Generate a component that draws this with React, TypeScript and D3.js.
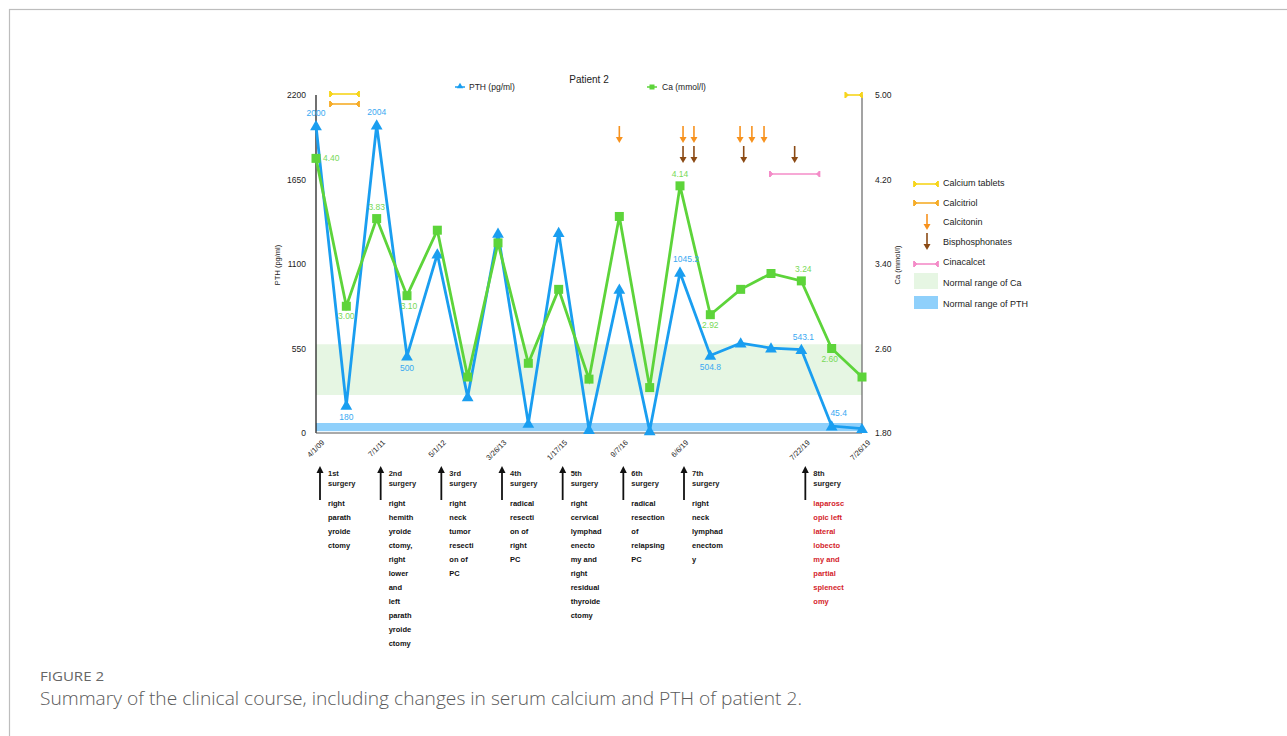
import React from "react";
import * as d3 from "d3";

const dates = ["4/1/09", "", "7/1/11", "", "5/1/12", "", "3/26/13", "", "1/17/15", "", "9/7/16", "", "6/6/19", "", "", "", "7/22/19", "", "7/26/19"];
const pth = [2000, 180, 2004, 500, 1165, 235, 1300, 62, 1305, 22, 935, 14, 1045.2, 504.8, 585, 553, 543.1, 45.4, 28];
const ca = [4.40, 3.00, 3.83, 3.10, 3.72, 2.33, 3.60, 2.46, 3.16, 2.31, 3.85, 2.23, 4.14, 2.92, 3.16, 3.31, 3.24, 2.60, 2.33];
const pthLabels: [number, string][] = [[0, "2000"], [1, "180"], [2, "2004"], [3, "500"], [12, "1045.2"], [13, "504.8"], [16, "543.1"], [17, "45.4"]];
const caLabels: [number, string][] = [[0, "4.40"], [1, "3.00"], [2, "3.83"], [3, "3.10"], [12, "4.14"], [13, "2.92"], [16, "3.24"], [17, "2.60"]];
const pthTicks = [0, 550, 1100, 1650, 2200];
const caTicks = [1.8, 2.6, 3.4, 4.2, 5.0];
const caNormal = [2.16, 2.64];
const pthNormal = [12, 65];

const calciumTablets: [number, number][] = [[0.46, 1.42], [17.45, 18]];
const calcitriol: [number, number][] = [[0.46, 1.42]];
const calcitonin = [10, 12.1, 12.46, 13.98, 14.37, 14.77];
const bisphosphonates = [12.1, 12.46, 14.1, 15.78];
const cinacalcet: [number, number][] = [[14.96, 16.6]];

const surgeryIdx = [0, 2, 4, 6, 8, 10, 12, 16];
const surgeryOrd = ["1st", "2nd", "3rd", "4th", "5th", "6th", "7th", "8th"];
const surgeryText = [
  ["right", "parath", "yroide", "ctomy"],
  ["right", "hemith", "yroide", "ctomy,", "right", "lower", "and", "left", "parath", "yroide", "ctomy"],
  ["right", "neck", "tumor", "resecti", "on of", "PC"],
  ["radical", "resecti", "on of", "right", "PC"],
  ["right", "cervical", "lymphad", "enecto", "my and", "right", "residual", "thyroide", "ctomy"],
  ["radical", "resection", "of", "relapsing", "PC"],
  ["right", "neck", "lymphad", "enectom", "y"],
  ["laparosc", "opic left", "lateral", "lobecto", "my and", "partial", "splenect", "omy"],
];
const legendItems = ["Calcium tablets", "Calcitriol", "Calcitonin", "Bisphosphonates", "Cinacalcet", "Normal range of Ca", "Normal range of PTH"];

const BLUE = "#1a9ef0";
const BLUE_T = "#3aa9f2";
const GREEN = "#5dd43a";
const GREEN_T = "#78d957";
const YELLOW = "#f7d51d";
const ORANGE_Y = "#f6ad2a";
const ORANGE = "#f7921e";
const BROWN = "#8b4a14";
const PINK = "#f48cc8";
const FONT = "'Liberation Sans', Arial, sans-serif";

const x = d3.scaleLinear().domain([0, 18]).range([316, 862]);
const yP = d3.scaleLinear().domain([0, 2200]).range([433, 95]);
const yC = d3.scaleLinear().domain([1.8, 5.0]).range([433, 95]);

function IBeam({ x1, x2, y, color }: { x1: number; x2: number; y: number; color: string }) {
  return (
    <g stroke={color} strokeWidth={1.6}>
      <line x1={x1} x2={x2} y1={y} y2={y} />
      <path d={`M${x1},${y - 3}L${x1 + 3},${y}L${x1},${y + 3}Z`} fill={color} strokeWidth={1} />
      <line x1={x1} x2={x1} y1={y - 3} y2={y + 3} />
      <path d={`M${x2},${y - 3}L${x2 - 3},${y}L${x2},${y + 3}Z`} fill={color} strokeWidth={1} />
      <line x1={x2} x2={x2} y1={y - 3} y2={y + 3} />
    </g>
  );
}

function DownArrow({ cx, y1, y2, color }: { cx: number; y1: number; y2: number; color: string }) {
  return (
    <g>
      <line x1={cx} x2={cx} y1={y1} y2={y2 - 5} stroke={color} strokeWidth={1.6} />
      <path d={`M${cx - 3.5},${y2 - 6}L${cx + 3.5},${y2 - 6}L${cx},${y2}Z`} fill={color} />
    </g>
  );
}

export default function App() {
  const linePth = d3.line<number>().x((_, i) => x(i)).y((d) => yP(d));
  const lineCa = d3.line<number>().x((_, i) => x(i)).y((d) => yC(d));
  const tri = d3.symbol().type(d3.symbolTriangle).size(60)()!;

  return (
    <svg width={1287} height={736} style={{ position: "absolute", left: 0, top: 0, background: "#fff" }} fontFamily={FONT}>
      <rect x={9.5} y={9.5} width={1300} height={760} fill="none" stroke="#bdbdbd" strokeWidth={1.2} />

      {/* title & legend */}
      <text x={589} y={83} fontSize={10} textAnchor="middle" fill="#222">Patient  2</text>
      <g>
        <line x1={455} x2={465} y1={87} y2={87} stroke={BLUE} strokeWidth={1.5} />
        <path d={d3.symbol().type(d3.symbolTriangle).size(18)()!} transform="translate(460,86.5)" fill={BLUE} />
        <text x={469} y={90} fontSize={8.5} fill="#222">PTH (pg/ml)</text>
        <line x1={647} x2={657} y1={87} y2={87} stroke={GREEN} strokeWidth={1.5} />
        <rect x={649.5} y={84.5} width={5} height={5} fill={GREEN} />
        <text x={662} y={90} fontSize={8.5} fill="#222">Ca (mmol/l)</text>
      </g>

      {/* normal bands */}
      <rect x={x(0)} width={x(18) - x(0)} y={yC(caNormal[1])} height={yC(caNormal[0]) - yC(caNormal[1])} fill="#e6f6e3" />
      <rect x={x(0)} width={x(18) - x(0)} y={yP(pthNormal[1])} height={yP(pthNormal[0]) - yP(pthNormal[1])} fill="#8fd0fb" />

      {/* axes */}
      <line x1={316} x2={316} y1={95} y2={433} stroke="#111" strokeWidth={1.2} />
      <line x1={862} x2={862} y1={95} y2={433} stroke="#666" strokeWidth={1.2} />
      <line x1={316} x2={862} y1={433} y2={433} stroke="#555" strokeWidth={1} />
      {pthTicks.map((t) => (
        <text key={t} x={306} y={yP(t) + 3} fontSize={8.5} textAnchor="end" fill="#222">{t}</text>
      ))}
      {caTicks.map((t) => (
        <text key={t} x={875} y={yC(t) + 3} fontSize={8.5} fill="#222">{t.toFixed(2)}</text>
      ))}
      <text transform="translate(280,265) rotate(-90)" fontSize={7.5} textAnchor="middle" fill="#222">PTH (pg/ml)</text>
      <text transform="translate(900,265) rotate(-90)" fontSize={7.5} textAnchor="middle" fill="#222">Ca (mmol/l)</text>
      {dates.map((d, i) =>
        d ? (
          <text key={i} transform={`translate(${x(i) + 9},${443}) rotate(-45)`} fontSize={7.5} textAnchor="end" fill="#222">{d}</text>
        ) : null
      )}

      {/* series */}
      <path d={linePth(pth)!} fill="none" stroke={BLUE} strokeWidth={2.8} strokeLinejoin="miter" />
      {pth.map((v, i) => (
        <path key={i} d={tri} transform={`translate(${x(i)},${yP(v) + 1})`} fill={BLUE} />
      ))}
      <path d={lineCa(ca)!} fill="none" stroke={GREEN} strokeWidth={2.8} strokeLinejoin="miter" />
      {ca.map((v, i) => (
        <rect key={i} x={x(i) - 4.5} y={yC(v) - 4.5} width={9} height={9} fill={GREEN} />
      ))}

      {/* value labels */}
      {pthLabels.map(([i, s]) => {
        const v = pth[i];
        const above = [0, 2, 12, 16, 17].includes(i);
        const dx = i === 12 ? 6 : i === 17 ? 7 : i === 16 ? 2 : 0;
        return (
          <text key={i} x={x(i) + dx} y={above ? yP(v) - 10 : yP(v) + 15} fontSize={8.5} textAnchor="middle" fill={BLUE_T}>{s}</text>
        );
      })}
      {caLabels.map(([i, s]) => {
        const v = ca[i];
        if (i === 0) return <text key={i} x={x(i) + 7} y={yC(v) + 3} fontSize={8.5} fill={GREEN_T}>{s}</text>;
        const above = [2, 12, 16].includes(i);
        const dx = i === 3 ? 2 : i === 16 ? 2 : i === 17 ? -2 : 0;
        return (
          <text key={i} x={x(i) + dx} y={above ? yC(v) - 9 : yC(v) + 13} fontSize={8.5} textAnchor="middle" fill={GREEN_T}>{s}</text>
        );
      })}

      {/* treatments */}
      {calciumTablets.map(([a, b], k) => (
        <IBeam key={k} x1={x(a)} x2={x(b)} y={k === 0 ? 94 : 95} color={YELLOW} />
      ))}
      {calcitriol.map(([a, b], k) => (
        <IBeam key={k} x1={x(a)} x2={x(b)} y={104} color={ORANGE_Y} />
      ))}
      {calcitonin.map((p, k) => (
        <DownArrow key={k} cx={x(p)} y1={126} y2={143} color={ORANGE} />
      ))}
      {bisphosphonates.map((p, k) => (
        <DownArrow key={k} cx={x(p)} y1={146} y2={163} color={BROWN} />
      ))}
      {cinacalcet.map(([a, b], k) => (
        <IBeam key={k} x1={x(a)} x2={x(b)} y={174} color={PINK} />
      ))}

      {/* right legend */}
      <g fontSize={9} fill="#222">
        <IBeam x1={914} x2={938} y={184} color={YELLOW} />
        <text x={943} y={186}>{legendItems[0]}</text>
        <IBeam x1={914} x2={938} y={203} color={ORANGE_Y} />
        <text x={943} y={206}>{legendItems[1]}</text>
        <DownArrow cx={927} y1={214} y2={230} color={ORANGE} />
        <text x={943} y={225}>{legendItems[2]}</text>
        <DownArrow cx={927} y1={233} y2={250} color={BROWN} />
        <text x={943} y={245}>{legendItems[3]}</text>
        <IBeam x1={914} x2={938} y={264} color={PINK} />
        <text x={943} y={265}>{legendItems[4]}</text>
        <rect x={914} y={273} width={24} height={16} fill="#e6f6e3" />
        <text x={943} y={286}>{legendItems[5]}</text>
        <rect x={914} y={296} width={24} height={13} fill="#8fd0fb" />
        <text x={943} y={307}>{legendItems[6]}</text>
      </g>

      {/* surgeries */}
      {surgeryIdx.map((idx, k) => {
        const ax = x(idx) + 4;
        const red = k === 7;
        return (
          <g key={k} fontSize={7.5} fontWeight="bold">
            <line x1={ax} x2={ax} y1={500} y2={471} stroke="#111" strokeWidth={1.8} />
            <path d={`M${ax - 3.5},${473}L${ax + 3.5},${473}L${ax},${466}Z`} fill="#111" />
            <text x={ax + 8} y={476} fill="#222">{surgeryOrd[k]}</text>
            <text x={ax + 8} y={486} fill="#222">surgery</text>
            {surgeryText[k].map((t, j) => (
              <text key={j} x={ax + 8} y={506 + j * 14} fill={red ? "#d4232a" : "#111"}>{t}</text>
            ))}
          </g>
        );
      })}

      {/* caption */}
      <text x={40} y={681} fontSize={13} fill="#666" fontFamily="'Open Sans', sans-serif" textLength={64} lengthAdjust="spacingAndGlyphs">FIGURE 2</text>
      <text x={40} y={705} fontSize={18} fill="#5a5a5a" fontFamily="'Open Sans', sans-serif" fontWeight={300} textLength={762} lengthAdjust="spacingAndGlyphs">
        Summary of the clinical course, including changes in serum calcium and PTH of patient 2.
      </text>
    </svg>
  );
}
